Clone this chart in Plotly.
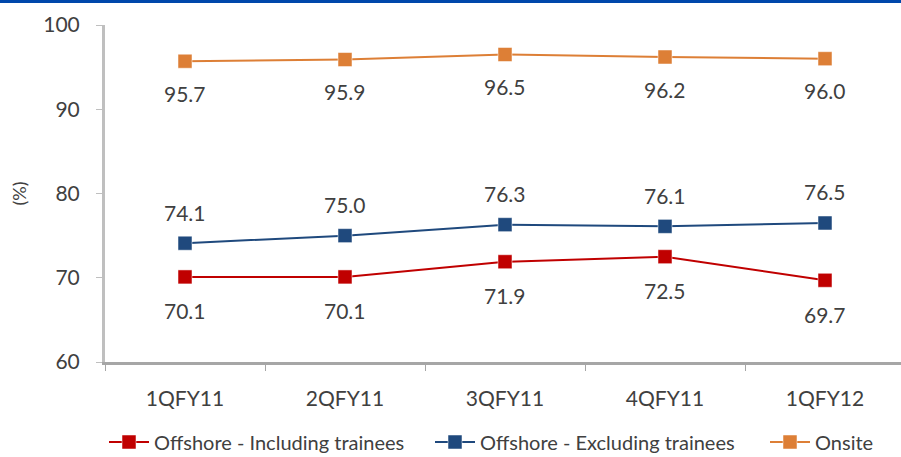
import plotly.graph_objects as go

quarters = ["1QFY11", "2QFY11", "3QFY11", "4QFY11", "1QFY12"]
offshore_incl = [70.1, 70.1, 71.9, 72.5, 69.7]
offshore_excl = [74.1, 75.0, 76.3, 76.1, 76.5]
onsite = [95.7, 95.9, 96.5, 96.2, 96.0]

y_ticks = [60, 70, 80, 90, 100]

# name, values, colour, label offset (px), legend id, legend left edge (px)
series = [
    ("Offshore - Including trainees", offshore_incl, "#C00000", -34, "legend", 104),
    ("Offshore - Excluding trainees", offshore_excl, "#1F497D", 31, "legend2", 430),
    ("Onsite", onsite, "#DD7F36", -32, "legend3", 765),
]

FONT = "Lato, 'Open Sans', sans-serif"
TEXT = "#404040"

fig = go.Figure()
annotations = []
legends = {}
for name, vals, color, shift, leg, left in series:
    fig.add_trace(go.Scatter(
        x=quarters, y=vals, name=name, mode="lines+markers",
        line=dict(color=color, width=2),
        marker=dict(symbol="square", size=14, color=color,
                    line=dict(color="white", width=0.5)),
        legend=leg,
    ))
    for q, v in zip(quarters, vals):
        annotations.append(dict(
            x=q, y=v, text=f"{v:.1f}", showarrow=False, yshift=shift,
            font=dict(family=FONT, size=21, color=TEXT),
        ))
    legends[leg] = dict(
        orientation="h", xref="container", yref="container",
        x=left / 901, y=15 / 457, xanchor="left", yanchor="middle",
        font=dict(family=FONT, size=20, color=TEXT),
        itemwidth=40, bgcolor="rgba(0,0,0,0)",
    )

fig.update_layout(
    width=901, height=457,
    margin=dict(l=105, r=0, t=25, b=95, autoexpand=False),
    paper_bgcolor="white", plot_bgcolor="white",
    annotations=annotations,
    showlegend=True,
    shapes=[dict(
        type="line", xref="paper", yref="paper",
        x0=-105 / 796, x1=1.0, y0=(362 - 1.5) / 337, y1=(362 - 1.5) / 337,
        line=dict(color="#0047AB", width=3),
    )],
    **legends,
)

fig.update_xaxes(
    type="category", range=[-0.5, -0.5 + 796 / 160],
    showline=True, linecolor="#A6A6A6", linewidth=3,
    ticks="outside", ticklen=6, tickcolor="#A6A6A6", tickwidth=1,
    tickson="boundaries", showgrid=False, zeroline=False,
    tickfont=dict(family=FONT, size=21, color=TEXT),
    ticklabelstandoff=16,
)
fig.update_yaxes(
    range=[60, 100], tickvals=y_ticks,
    showline=True, linecolor="#BFBFBF", linewidth=3,
    ticks="outside", ticklen=6, tickcolor="#BFBFBF", tickwidth=1,
    showgrid=False, zeroline=False,
    tickfont=dict(family=FONT, size=21, color=TEXT),
    ticklabelstandoff=12,
    title=dict(text="(%)", font=dict(family=FONT, size=18, color=TEXT), standoff=12),
)

fig.write_html("out.html")
